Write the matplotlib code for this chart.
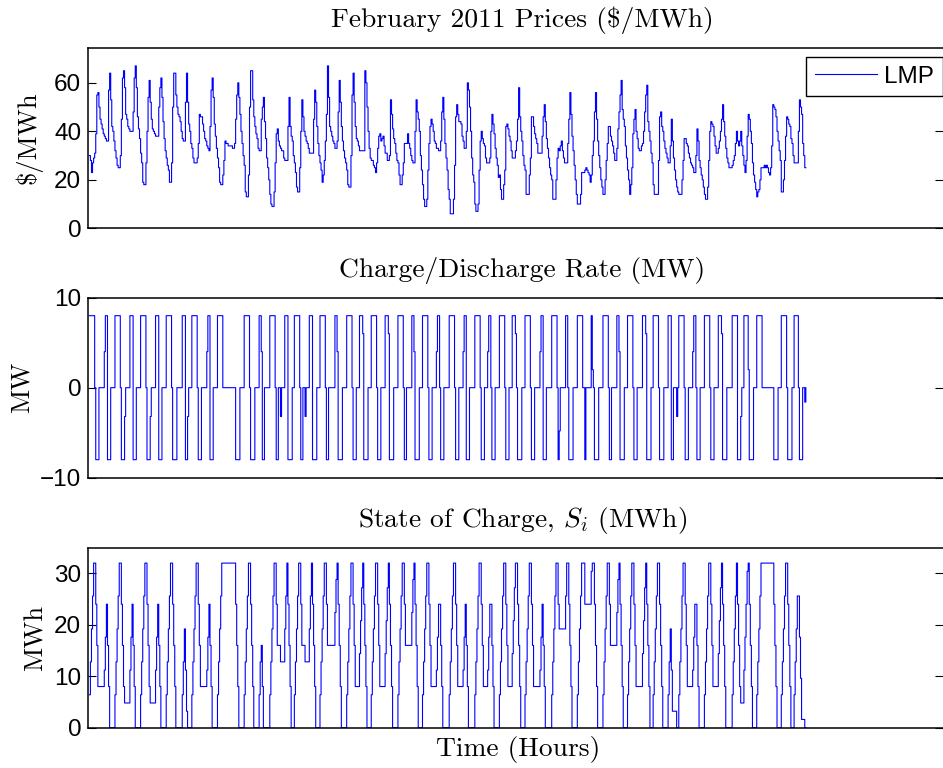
import numpy as np
import matplotlib
matplotlib.use("Agg")
import matplotlib.pyplot as plt

plt.rcParams["font.family"] = "Liberation Sans"
plt.rcParams["mathtext.fontset"] = "cm"

# %% hourly values, February 2011 (one row = one day, 24 hours)
lmp_days = [
    [30, 28, 23, 27, 29, 31, 39, 55, 56, 50, 45, 43, 41, 39, 38, 37, 36, 36, 57, 64, 53, 42, 40, 36],
    [32, 29, 26, 25, 25, 30, 45, 62, 65, 58, 47, 45, 42, 41, 40, 40, 40, 48, 62, 67, 58, 46, 41, 37],
    [31, 27, 19, 18, 18, 27, 40, 54, 61, 52, 45, 41, 40, 39, 38, 38, 38, 50, 58, 62, 54, 44, 37, 32],
    [29, 26, 24, 19, 19, 27, 50, 64, 64, 55, 50, 47, 46, 44, 40, 37, 36, 36, 52, 64, 52, 43, 40, 35],
    [33, 29, 27, 27, 27, 29, 35, 47, 46, 46, 43, 40, 37, 36, 34, 33, 32, 42, 57, 62, 54, 43, 38, 33],
    [29, 25, 19, 18, 18, 22, 28, 36, 35, 35, 34, 34, 34, 34, 33, 33, 35, 45, 55, 60, 54, 47, 40, 35],
    [30, 26, 15, 13, 13, 22, 50, 65, 65, 53, 46, 42, 39, 37, 33, 32, 32, 45, 50, 54, 44, 37, 29, 25],
    [20, 14, 10, 9, 9, 15, 27, 39, 41, 36, 34, 33, 32, 32, 29, 28, 28, 28, 42, 54, 42, 38, 36, 30],
    [27, 23, 17, 15, 15, 25, 40, 53, 46, 40, 38, 36, 35, 33, 31, 31, 31, 31, 45, 57, 52, 42, 35, 30],
    [27, 24, 19, 22, 28, 36, 47, 67, 54, 42, 40, 38, 36, 35, 33, 33, 36, 48, 61, 52, 42, 36, 32, 29],
    [27, 24, 18, 17, 17, 30, 55, 64, 52, 42, 37, 36, 34, 32, 32, 32, 32, 32, 65, 60, 50, 40, 33, 29],
    [28, 28, 26, 25, 23, 27, 33, 38, 39, 36, 37, 38, 34, 31, 31, 28, 28, 30, 53, 47, 41, 37, 35, 31],
    [28, 27, 22, 18, 18, 22, 27, 35, 35, 35, 39, 35, 33, 30, 28, 27, 27, 40, 53, 48, 45, 40, 30, 24],
    [18, 12, 9, 9, 12, 24, 35, 42, 45, 43, 40, 36, 35, 33, 33, 32, 32, 36, 48, 54, 45, 35, 29, 24],
    [16, 12, 6, 6, 6, 12, 26, 46, 51, 47, 44, 44, 43, 38, 36, 33, 33, 40, 60, 57, 50, 40, 29, 22],
    [19, 10, 7, 7, 10, 24, 36, 40, 37, 35, 34, 29, 27, 27, 27, 29, 40, 47, 43, 39, 33, 29, 26, 21],
    [22, 16, 12, 12, 18, 24, 42, 43, 41, 38, 36, 32, 29, 29, 29, 32, 36, 45, 58, 46, 40, 36, 30, 26],
    [24, 14, 14, 14, 22, 29, 46, 46, 42, 39, 37, 35, 31, 31, 31, 31, 38, 46, 51, 44, 37, 33, 29, 25],
    [22, 20, 12, 12, 12, 20, 29, 33, 32, 34, 36, 32, 29, 27, 27, 27, 35, 45, 56, 47, 38, 32, 26, 20],
    [14, 10, 10, 10, 14, 23, 23, 23, 24, 25, 24, 23, 22, 19, 22, 30, 36, 48, 56, 45, 36, 30, 25, 20],
    [17, 14, 14, 20, 28, 35, 42, 42, 38, 36, 34, 31, 28, 28, 33, 41, 48, 55, 61, 49, 45, 42, 34, 29],
    [24, 20, 14, 18, 25, 39, 45, 49, 40, 37, 33, 32, 32, 34, 35, 40, 48, 55, 59, 44, 40, 36, 31, 27],
    [18, 14, 14, 14, 14, 28, 46, 48, 42, 40, 36, 33, 31, 29, 27, 27, 34, 45, 36, 29, 24, 20, 17, 15],
    [14, 14, 14, 20, 28, 37, 37, 35, 34, 31, 29, 27, 26, 25, 23, 23, 30, 41, 36, 28, 25, 22, 20, 17],
    [14, 12, 12, 17, 28, 40, 44, 43, 42, 38, 34, 31, 31, 33, 36, 40, 45, 51, 44, 38, 33, 29, 27, 25],
    [25, 25, 26, 28, 30, 35, 40, 36, 34, 36, 40, 34, 30, 26, 23, 28, 38, 47, 45, 40, 35, 27, 22, 19],
    [16, 13, 15, 16, 20, 25, 25, 25, 26, 25, 26, 25, 23, 22, 25, 34, 51, 50, 49, 46, 40, 36, 32, 28],
    [15, 15, 20, 28, 38, 46, 45, 43, 42, 37, 35, 30, 27, 27, 27, 27, 40, 53, 50, 47, 35, 30, 25, 25],
]

rate_days = [
    [8, 8, 8, 8, 8, 0, -8, -8, -8, 0, 0, 0, 0, 0, 4, 8, 8, -8, -8, -8, 0, 0, 0, 0],
    [8, 8, 8, 8, 8, 0, -8, -8, -8, -3.2, 0, 0, 0, 0, 8, 8, 8, -8, -8, -8, 0, 0, 0, 0],
    [8, 8, 8, 8, 8, 0, -8, -8, -8, -3.2, 0, 0, 0, 0, 8, 8, 8, -8, -8, -8, 0, 0, 0, 0],
    [8, 8, 8, 8, 8, 0, -8, -8, -8, -8, 0, 0, 0, 0, 0, 8, 8, 8, -8, -8, -3.2, 0, 0, 0],
    [8, 8, 8, 8, 8, 0, -8, -8, -8, 0, 0, 0, 0, 0, 4, 8, 8, -8, -8, -8, 0, 0, 0, 0],
    [8, 8, 8, 8, 8, 0, 0, 0, 0, 0, 0, 0, 0, 0, 0, 0, 0, -8, -8, -8, -8, 0, 0, 0],
    [0, 8, 8, 8, 8, 8, 0, -8, -8, -8, -8, 0, 0, 0, 0, 8, 8, 4, -8, -8, 0, 0, 0, 0],
    [0, 8, 8, 8, 8, 8, 0, -8, -8, 0, 0, -3.2, 0, 0, 0, 8, 8, 8, -8, -8, -8, -8, 0, 0],
    [8, 8, 8, 8, 8, 0, -8, -8, 0, 0, -3.2, 0, 0, 0, 8, 8, 8, -8, -8, -8, -8, 0, 0, 0],
    [8, 8, 8, 8, 8, 0, -8, -8, 0, 0, 0, 0, 0, 0, 8, 8, 4, -8, -8, -8, -8, 0, 0, 0],
    [0, 8, 8, 8, 8, 8, 0, -8, -8, -8, 0, 0, 0, 8, 8, 8, 6, -8, -8, -8, -8, 0, 0, 0],
    [8, 8, 8, 8, 8, 0, -8, -8, -8, 0, 0, 0, 0, 8, 8, 8, 6, -8, -8, -8, -8, 0, 0, 0],
    [0, 8, 8, 8, 8, 8, 0, -8, -8, 0, 0, 0, 0, 0, 8, 8, 4, -8, -8, -8, -8, 0, 0, 0],
    [8, 8, 8, 8, 8, 0, -8, -8, -8, 0, 0, 0, 0, 4, 8, 8, 0, -8, -8, -8, 0, 0, 0, 0],
    [0, 8, 8, 8, 8, 8, 0, -8, -8, -8, 0, 0, 0, 0, 4, 8, 8, -8, -8, -8, 0, 0, 0, 0],
    [0, 8, 8, 8, 8, 8, 0, -8, -8, -8, 0, 0, 0, 4, 8, 8, 0, -8, -8, -8, 0, 0, 0, 0],
    [8, 8, 8, 8, 8, 0, -8, -8, -8, 0, 0, 0, 8, 8, 8, 6, 0, -8, -8, -8, -8, 0, 0, 0],
    [8, 8, 8, 8, 8, 0, -8, -8, -8, 0, 0, 0, 0, 0, 4, 8, 8, -8, -8, -8, 0, 0, 0, 0],
    [0, 8, 8, 8, 8, 8, 0, -8, -4.8, 0, 0, 0, 0, 0, 8, 8, 0, -8, -8, -8, -8, 0, 0, 0],
    [0, 8, 8, 8, 8, 8, 0, 0, -8, 0, 0, 0, 0, 0, 8, 2, 0, -8, -8, -8, -8, 0, 0, 0],
    [0, 8, 8, 8, 8, 8, 0, -8, -8, 0, 0, 0, 0, 0, 8, 8, 4, -8, -8, -8, -8, 0, 0, 0],
    [8, 8, 8, 8, 8, 0, -8, -8, -8, 0, 0, 0, 0, 0, 8, 8, 8, 6, -8, -8, -8, -8, 0, 0],
    [8, 8, 8, 8, 8, 0, -8, -8, -8, -8, 0, 0, 0, 0, 8, 8, 8, -8, -8, 0, 0, 0, -3.2, 0],
    [8, 8, 8, 8, 8, 0, -8, -8, -8, 0, 0, 0, 0, 4, 8, 8, 0, -8, -8, -8, 0, 0, 0, 0],
    [8, 8, 8, 8, 8, 0, -8, -8, -8, 0, 0, 0, 0, 8, 8, 8, 6, -8, -8, -8, -8, 0, 0, 0],
    [0, 0, 8, 8, 8, 8, 8, -8, -8, -8, -3.2, 0, 0, 8, 8, 8, 8, 2, -8, -8, -8, -8, 0, 0],
    [0, 8, 8, 8, 8, 8, 0, 0, 0, 0, 0, 0, 0, 0, 0, 0, 0, -8, -8, -8, -8, 0, 0, 0],
    [8, 8, 8, 8, 8, 0, -8, -8, -8, -8, 0, 0, 8, 8, 8, 8, 0, -8, -8, -8, 0, 0, -1.6, 0],
]

soc_days = [
    [6.4, 12.8, 19.2, 25.6, 32, 32, 24, 16, 8, 8, 8, 8, 8, 8, 11.2, 17.6, 24, 16, 8, 0, 0, 0, 0, 0],
    [6.4, 12.8, 19.2, 25.6, 32, 32, 24, 16, 8, 4.8, 4.8, 4.8, 4.8, 4.8, 11.2, 17.6, 24, 16, 8, 0, 0, 0, 0, 0],
    [6.4, 12.8, 19.2, 25.6, 32, 32, 24, 16, 8, 4.8, 4.8, 4.8, 4.8, 4.8, 11.2, 17.6, 24, 16, 8, 0, 0, 0, 0, 0],
    [6.4, 12.8, 19.2, 25.6, 32, 32, 24, 16, 8, 0, 0, 0, 0, 0, 0, 6.4, 12.8, 19.2, 11.2, 3.2, 0, 0, 0, 0],
    [6.4, 12.8, 19.2, 25.6, 32, 32, 24, 16, 8, 8, 8, 8, 8, 8, 11.2, 17.6, 24, 16, 8, 0, 0, 0, 0, 0],
    [6.4, 12.8, 19.2, 25.6, 32, 32, 32, 32, 32, 32, 32, 32, 32, 32, 32, 32, 32, 24, 16, 8, 0, 0, 0, 0],
    [0, 6.4, 12.8, 19.2, 25.6, 32, 32, 24, 16, 8, 0, 0, 0, 0, 0, 6.4, 12.8, 16, 8, 0, 0, 0, 0, 0],
    [0, 6.4, 12.8, 19.2, 25.6, 32, 32, 24, 16, 16, 16, 12.8, 12.8, 12.8, 12.8, 19.2, 25.6, 32, 24, 16, 8, 0, 0, 0],
    [6.4, 12.8, 19.2, 25.6, 32, 32, 24, 16, 16, 16, 12.8, 12.8, 12.8, 12.8, 19.2, 25.6, 32, 24, 16, 8, 0, 0, 0, 0],
    [6.4, 12.8, 19.2, 25.6, 32, 32, 24, 16, 16, 16, 16, 16, 16, 16, 22.4, 28.8, 32, 24, 16, 8, 0, 0, 0, 0],
    [0, 6.4, 12.8, 19.2, 25.6, 32, 32, 24, 16, 8, 8, 8, 8, 14.4, 20.8, 27.2, 32, 24, 16, 8, 0, 0, 0, 0],
    [6.4, 12.8, 19.2, 25.6, 32, 32, 24, 16, 8, 8, 8, 8, 8, 14.4, 20.8, 27.2, 32, 24, 16, 8, 0, 0, 0, 0],
    [0, 6.4, 12.8, 19.2, 25.6, 32, 32, 24, 16, 16, 16, 16, 16, 16, 22.4, 28.8, 32, 24, 16, 8, 0, 0, 0, 0],
    [6.4, 12.8, 19.2, 25.6, 32, 32, 24, 16, 8, 8, 8, 8, 8, 11.2, 17.6, 24, 24, 16, 8, 0, 0, 0, 0, 0],
    [0, 6.4, 12.8, 19.2, 25.6, 32, 32, 24, 16, 8, 8, 8, 8, 8, 11.2, 17.6, 24, 16, 8, 0, 0, 0, 0, 0],
    [0, 6.4, 12.8, 19.2, 25.6, 32, 32, 24, 16, 8, 8, 8, 8, 11.2, 17.6, 24, 24, 16, 8, 0, 0, 0, 0, 0],
    [6.4, 12.8, 19.2, 25.6, 32, 32, 24, 16, 8, 8, 8, 8, 14.4, 20.8, 27.2, 32, 32, 24, 16, 8, 0, 0, 0, 0],
    [6.4, 12.8, 19.2, 25.6, 32, 32, 24, 16, 8, 8, 8, 8, 8, 8, 11.2, 17.6, 24, 16, 8, 0, 0, 0, 0, 0],
    [0, 6.4, 12.8, 19.2, 25.6, 32, 32, 24, 19.2, 19.2, 19.2, 19.2, 19.2, 19.2, 25.6, 32, 32, 24, 16, 8, 0, 0, 0, 0],
    [0, 6.4, 12.8, 19.2, 25.6, 32, 32, 32, 24, 24, 24, 24, 24, 24, 30.4, 32, 32, 24, 16, 8, 0, 0, 0, 0],
    [0, 6.4, 12.8, 19.2, 25.6, 32, 32, 24, 16, 16, 16, 16, 16, 16, 22.4, 28.8, 32, 24, 16, 8, 0, 0, 0, 0],
    [6.4, 12.8, 19.2, 25.6, 32, 32, 24, 16, 8, 8, 8, 8, 8, 8, 14.4, 20.8, 27.2, 32, 24, 16, 8, 0, 0, 0],
    [6.4, 12.8, 19.2, 25.6, 32, 32, 24, 16, 8, 0, 0, 0, 0, 0, 6.4, 12.8, 19.2, 11.2, 3.2, 3.2, 3.2, 3.2, 0, 0],
    [6.4, 12.8, 19.2, 25.6, 32, 32, 24, 16, 8, 8, 8, 8, 8, 11.2, 17.6, 24, 24, 16, 8, 0, 0, 0, 0, 0],
    [6.4, 12.8, 19.2, 25.6, 32, 32, 24, 16, 8, 8, 8, 8, 8, 14.4, 20.8, 27.2, 32, 24, 16, 8, 0, 0, 0, 0],
    [0, 0, 6.4, 12.8, 19.2, 25.6, 32, 24, 16, 8, 4.8, 4.8, 4.8, 11.2, 17.6, 24, 30.4, 32, 24, 16, 8, 0, 0, 0],
    [0, 6.4, 12.8, 19.2, 25.6, 32, 32, 32, 32, 32, 32, 32, 32, 32, 32, 32, 32, 24, 16, 8, 0, 0, 0, 0],
    [6.4, 12.8, 19.2, 25.6, 32, 32, 24, 16, 8, 0, 0, 0, 6.4, 12.8, 19.2, 25.6, 25.6, 17.6, 9.6, 1.6, 1.6, 1.6, 0, 0],
]

lmp = np.concatenate(lmp_days)
rate = np.concatenate(rate_days)
soc = np.concatenate(soc_days)
hours = np.arange(1, len(lmp) + 1)

# %%
serif = "cmr10"
fig = plt.figure(figsize=(9.43, 7.68), dpi=100)
ax1 = fig.add_axes([0.0936, 0.7027, 0.9059, 0.2352])
ax2 = fig.add_axes([0.0936, 0.3780, 0.9059, 0.2344])
ax3 = fig.add_axes([0.0936, 0.0525, 0.9059, 0.2344])

ax1.step(hours, lmp, where="post", color="b", lw=0.8, label="LMP")
ax2.step(hours, rate, where="post", color="b", lw=0.8)
ax3.step(hours, soc, where="post", color="b", lw=0.8)

ax1.set_ylim(0, 74.5)
ax1.set_yticks([0, 20, 40, 60])
ax2.set_ylim(-10, 10)
ax2.set_yticks([-10, 0, 10])
ax3.set_ylim(0, 35)
ax3.set_yticks([0, 10, 20, 30])

for ax in (ax1, ax2, ax3):
    ax.set_xlim(0, 800)
    ax.set_xticks([])
    ax.spines["right"].set_visible(False)
    for s in ("left", "top", "bottom"):
        ax.spines[s].set_linewidth(1.1)
    ax.tick_params(axis="y", direction="in", length=6, width=0.8,
                   right=True, labelsize=17.5, pad=5)

ax1.set_title(r"February 2011 Prices (\$/MWh)", family=serif, fontsize=19.8, pad=15, x=0.508)
ax2.set_title("Charge/Discharge Rate (MW)", family=serif, fontsize=19.8, pad=15, x=0.508)
ax3.set_title(r"State of Charge, $S_i$ (MWh)", family=serif, fontsize=19.8, pad=15, x=0.508)

ax1.set_ylabel(r"\$/MWh", family=serif, fontsize=19)
ax2.set_ylabel("MW", family=serif, fontsize=19)
ax3.set_ylabel("MWh", family=serif, fontsize=19)
ax1.yaxis.set_label_coords(-0.053, 0.5)
ax2.yaxis.set_label_coords(-0.064, 0.5)
ax3.yaxis.set_label_coords(-0.0475, 0.5)
ax3.set_xlabel("Time (Hours)", family=serif, fontsize=19.8, labelpad=5)
ax3.xaxis.set_label_coords(0.503, -0.045)
ax3.xaxis.label.set_va("top")

leg = ax1.legend(loc="upper right", bbox_to_anchor=(1.0, 1 - 9.6 / 180.6), borderaxespad=0,
                 fontsize=17.5, handlelength=2.55, handletextpad=0.3, borderpad=0.35,
                 fancybox=False, framealpha=1, edgecolor="black")
leg.get_frame().set_linewidth(1.0)

fig.savefig("out.png", dpi=100)
